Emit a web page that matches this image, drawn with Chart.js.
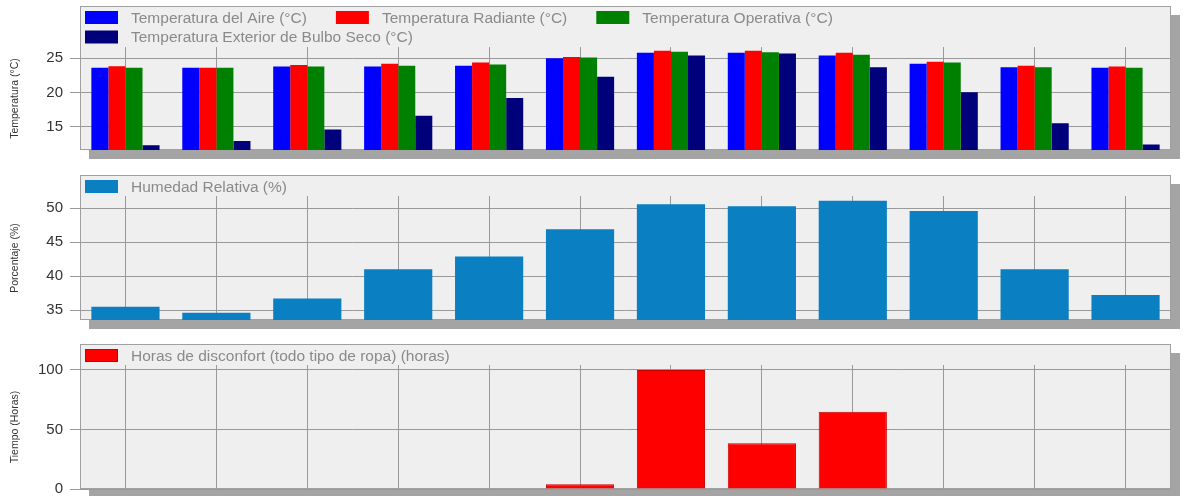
<!DOCTYPE html>
<html>
<head>
<meta charset="utf-8">
<script src="https://cdn.jsdelivr.net/npm/chart.js@4"></script>
<style>
  html, body { margin: 0; padding: 0; background: #fff; }
  #wrap { position: relative; width: 1187px; height: 496px; overflow: hidden; }
  .panel { position: absolute; left: 0; width: 1187px; }
</style>
</head>
<body>
<div id="wrap">
  <div class="panel" style="top:0;height:165px"><canvas id="tempChart"></canvas></div>
  <div class="panel" style="top:165px;height:165px"><canvas id="humChart"></canvas></div>
  <div class="panel" style="top:330px;height:166px"><canvas id="hoursChart"></canvas></div>
</div>
<script>
// months (not shown on the axis)
const months = ['Ene', 'Feb', 'Mar', 'Abr', 'May', 'Jun', 'Jul', 'Ago', 'Sep', 'Oct', 'Nov', 'Dic'];

const tempAire      = [23.6, 23.6, 23.8, 23.8, 23.9, 25.0, 25.8, 25.8, 25.4, 24.2, 23.7, 23.6];
const tempRadiante  = [23.85, 23.6, 24.0, 24.2, 24.4, 25.2, 26.1, 26.1, 25.8, 24.5, 23.9, 23.8];
const tempOperativa = [23.6, 23.6, 23.8, 23.9, 24.1, 25.1, 25.95, 25.9, 25.5, 24.4, 23.7, 23.6];
const tempExterior  = [12.3, 12.9, 14.6, 16.6, 19.2, 22.3, 25.4, 25.7, 23.7, 20.05, 15.5, 12.4];
const humedad       = [35.5, 34.6, 36.7, 41.0, 42.9, 46.9, 50.6, 50.3, 51.1, 49.6, 41.0, 37.2];
const disconfort    = [0, 0, 0, 0, 0, 4, 100, 38.4, 65, 0, 0, 0];

const tempTicks = [15, 20, 25];
const humTicks = [35, 40, 45, 50];
const hoursTicks = [0, 50, 100];

const FONT = "'Liberation Sans', Arial, sans-serif";

// panel background, border, shadow and the legend inside the panel
const panelPlugin = {
    id: 'panelPlugin',
    beforeDraw(chart, args, opts) {
        const { ctx, chartArea: a } = chart;
        const top = a.top - opts.head;
        const w = a.right - a.left, h = a.bottom - top;
        ctx.save();
        ctx.fillStyle = '#a4a4a4';
        ctx.fillRect(a.left + 9, top + 9, w, h);
        ctx.fillStyle = '#efefef';
        ctx.fillRect(a.left, top, w, h);
        ctx.strokeStyle = '#a0a0a0';
        ctx.lineWidth = 1;
        ctx.strokeRect(a.left + 0.5, top + 0.5, w - 1, h - 1);
        ctx.restore();
    },
    afterDraw(chart, args, opts) {
        const { ctx, chartArea: a } = chart;
        const top = a.top - opts.head;
        ctx.save();
        ctx.font = '15.5px ' + FONT;
        ctx.textBaseline = 'middle';
        opts.rows.forEach((row, r) => {
            const y = top + 11.5 + r * 19.5;
            let x = a.left + 5;
            row.forEach(i => {
                const ds = chart.data.datasets[i];
                ctx.fillStyle = ds.backgroundColor;
                ctx.fillRect(x, y - 6.5, 33, 13);
                if (ds.borderWidth) {
                    ctx.strokeStyle = ds.borderColor;
                    ctx.lineWidth = 1;
                    ctx.strokeRect(x + 0.5, y - 6, 32, 12);
                }
                ctx.fillStyle = '#8a8a8a';
                ctx.fillText(ds.label, x + 46, y + 1);
                x += 46 + ctx.measureText(ds.label).width + 29;
            });
        });
        ctx.restore();
    }
};

function makeOptions(cfg) {
    return {
        responsive: true,
        maintainAspectRatio: false,
        animation: false,
        layout: { padding: { top: cfg.padTop, bottom: cfg.padBottom, left: 0, right: 16 } },
        plugins: {
            legend: { display: false },
            tooltip: { enabled: false },
            panelPlugin: { head: cfg.head, rows: cfg.rows }
        },
        scales: {
            x: {
                afterFit: (scale) => {
                    scale.height = 0;
                    scale.paddingLeft = 0;
                    scale.paddingRight = 0;
                },
                ticks: { display: false },
                border: { display: false },
                grid: { offset: false, drawTicks: false, color: '#9a9a9a', lineWidth: 1 }
            },
            y: {
                min: cfg.min,
                max: cfg.max,
                afterBuildTicks: (scale) => { scale.ticks = cfg.ticks.map(v => ({ value: v })); },
                afterFit: (scale) => {
                    scale.width = 80;
                    scale.paddingTop = 0;
                    scale.paddingBottom = 0;
                },
                border: { display: false },
                grid: { color: '#9a9a9a', lineWidth: 1, tickLength: 10 },
                ticks: { color: '#333', padding: 7, font: { family: FONT, size: 15 } },
                title: {
                    display: true,
                    text: cfg.title,
                    color: '#333',
                    font: { family: FONT, size: 10.5 },
                    padding: { top: 9, bottom: 4 }
                }
            }
        }
    };
}

const barStyle = { categoryPercentage: 0.75, barPercentage: 1, borderWidth: 0 };

new Chart(document.getElementById('tempChart'), {
    type: 'bar',
    data: {
        labels: months,
        datasets: [
            { label: 'Temperatura del Aire (°C)', data: tempAire, backgroundColor: '#0000ff', ...barStyle },
            { label: 'Temperatura Radiante (°C)', data: tempRadiante, backgroundColor: '#ff0000', ...barStyle },
            { label: 'Temperatura Operativa (°C)', data: tempOperativa, backgroundColor: '#008000', ...barStyle },
            { label: 'Temperatura Exterior de Bulbo Seco (°C)', data: tempExterior, backgroundColor: '#00007b', ...barStyle }
        ]
    },
    options: makeOptions({ padTop: 47, padBottom: 15, head: 41, rows: [[0, 1, 2], [3]],
        min: 11.59, max: 26.65, ticks: tempTicks, title: 'Temperatura (°C)' }),
    plugins: [panelPlugin]
});

new Chart(document.getElementById('humChart'), {
    type: 'bar',
    data: {
        labels: months,
        datasets: [
            { label: 'Humedad Relativa (%)', data: humedad, backgroundColor: '#0a7fc1', ...barStyle }
        ]
    },
    options: makeOptions({ padTop: 31, padBottom: 10, head: 21, rows: [[0]],
        min: 33.53, max: 51.81, ticks: humTicks, title: 'Porcentaje (%)' }),
    plugins: [panelPlugin]
});

new Chart(document.getElementById('hoursChart'), {
    type: 'bar',
    data: {
        labels: months,
        datasets: [
            { label: 'Horas de disconfort (todo tipo de ropa) (horas)', data: disconfort,
              backgroundColor: '#ff0000', categoryPercentage: 0.75, barPercentage: 1,
              borderColor: '#c80000', borderWidth: 1 }
        ]
    },
    options: makeOptions({ padTop: 35, padBottom: 7, head: 21, rows: [[0]],
        min: 0, max: 104.2, ticks: hoursTicks, title: 'Tiempo (Horas)' }),
    plugins: [panelPlugin]
});
</script>
</body>
</html>
